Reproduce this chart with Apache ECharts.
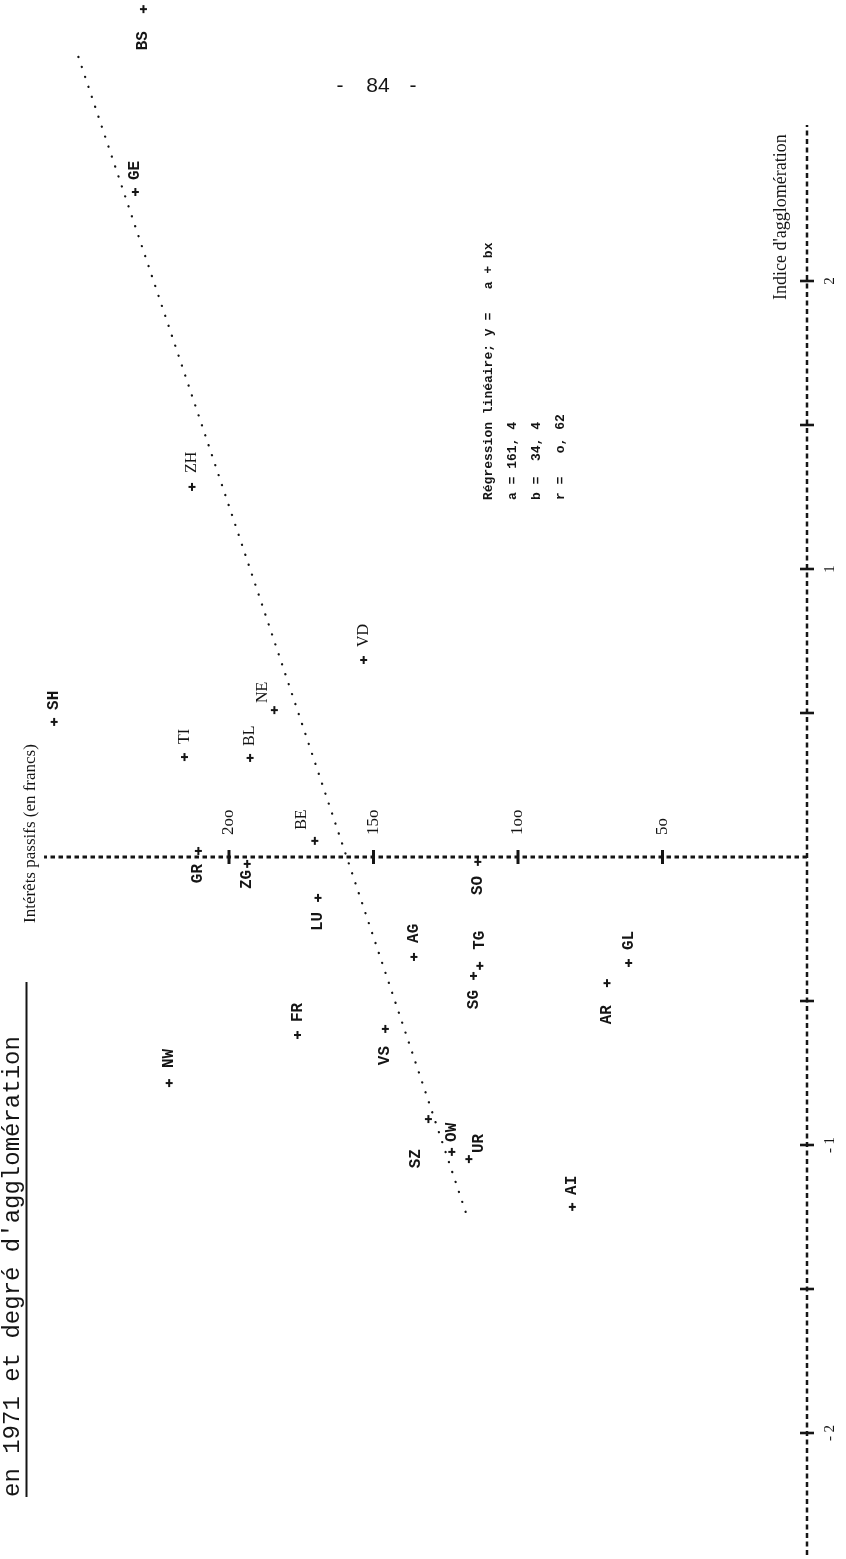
<!DOCTYPE html>
<html>
<head>
<meta charset="utf-8">
<script src="https://cdn.jsdelivr.net/npm/echarts@6/dist/echarts.min.js"></script>
<style>
html,body{margin:0;padding:0;background:#fff;}
#c{width:846px;height:1559px;}
</style>
</head>
<body>
<div id="c"></div>
<script>
// ---- data ----
const cantons = ['BS','GE','ZH','SH','TI','BL','NE','VD','BE','GR','ZG','SO','LU','AG','TG','SG','GL','AR','FR','VS','NW','SZ','OW','UR','AI'];
// Indice d'agglomération (x of the original chart)
const indiceAgglo = [2.944,2.309,1.285,0.469,0.347,0.344,0.51,0.684,0.056,0.021,-0.024,-0.017,-0.142,-0.347,-0.378,-0.413,-0.368,-0.438,-0.618,-0.597,-0.785,-0.91,-1.024,-1.049,-1.215];
// Intérêts passifs en francs (y of the original chart)
const interetsPassifs = [229.6,232.4,212.8,260.5,215.4,192.7,184.3,153.4,170.3,210.6,193.7,113.9,169.2,136,113.2,115.4,61.7,69.2,176.3,145.9,220.7,131,122.9,117,81.2];
// regression line end points (as drawn)
const regIndice = [2.778,-1.236];
const regInterets = [252.1,118];
// axes
const interetsTicks = [200,150,100,50];
const interetsTickLabels = ['2oo','15o','1oo','5o'];
const indiceTicks = [2,1.5,1,0.5,-0.5,-1,-1.5,-2];
const indiceLabelValues = [2,1,-1,-2];
const indiceTickLabels = ['2','1','- 1','- 2'];
const interetsAxisSpan = [0,264];
const indiceAxisSpan = [-2.424,2.542];

// ---- presentation ----
const R = Math.PI/2;
const INK = '#151515';
const placement = {
  BS:{side:'down',gap:22}, ZH:{gap:14}, TI:{gap:13}, NE:{gap:7,dx:-12}, VD:{gap:13},
  BE:{gap:11,dx:-13}, GR:{side:'down',gap:13}, ZG:{side:'down',gap:6}, SO:{side:'down',gap:14},
  LU:{side:'down',gap:14}, AG:{gap:14}, TG:{gap:16}, SG:{side:'down',gap:14}, GL:{gap:13},
  AR:{side:'down',gap:22}, FR:{gap:13}, VS:{side:'down',gap:17}, NW:{gap:15},
  SZ:{side:'down',gap:30,dx:-12}, OW:{gap:10}, UR:{gap:6,dx:10}, AI:{gap:12}
};
const serifLabels = new Set(['TI','BL','NE','BE','ZH','VD']);

const chart = echarts.init(document.getElementById('c'), null, {renderer:'canvas', width:846, height:1559});

const option = {
  animation:false,
  backgroundColor:'#ffffff',
  grid:{left:0,right:39,top:0,bottom:0},
  xAxis:{type:'value', inverse:true, min:0, max:279.24, show:false},
  yAxis:{type:'value', min:-2.4375, max:2.9757, show:false},
  series:[
    { // horizontal dashed axis (intérêts)
      type:'line', silent:true, symbol:'none',
      data: interetsAxisSpan.map(v=>[v,0]),
      lineStyle:{color:INK, width:3, type:[4.5,3.5]}
    },
    { // vertical dashed axis (indice)
      type:'line', silent:true, symbol:'none',
      data: indiceAxisSpan.map(v=>[0,v]),
      lineStyle:{color:INK, width:2.5, type:[5,3.5]}
    },
    { // regression (dotted)
      type:'line', silent:true, symbol:'none',
      data: regIndice.map((v,k)=>[regInterets[k], v]),
      lineStyle:{color:INK, width:2.3, type:[0.1,10.4], cap:'round'}
    },
    { // ticks on the intérêts axis
      type:'custom', silent:true,
      data: interetsTicks.map((v,k)=>[v,0,k]),
      encode:{x:0,y:1},
      renderItem:function(params, api){
        const p = api.coord([api.value(0), api.value(1)]);
        const k = api.value(2);
        return {type:'group', children:[
          {type:'line', shape:{x1:p[0],y1:p[1]-7,x2:p[0],y2:p[1]+7}, style:{stroke:INK,lineWidth:3}},
          {type:'text', x:p[0], y:p[1]-22, rotation:R,
           style:{text:interetsTickLabels[k], fontFamily:'Liberation Serif', fontSize:17, fill:INK, align:'left', verticalAlign:'middle'}}
        ]};
      }
    },
    { // ticks on the indice axis
      type:'custom', silent:true,
      data: indiceTicks.map((v,k)=>[0,v,k]),
      encode:{x:0,y:1},
      renderItem:function(params, api){
        const p = api.coord([api.value(0), api.value(1)]);
        return {type:'line', shape:{x1:p[0]-7,y1:p[1],x2:p[0]+7,y2:p[1]}, style:{stroke:INK,lineWidth:2.6}};
      }
    },
    { // labels of the indice axis
      type:'custom', silent:true,
      data: indiceLabelValues.map((v,k)=>[0,v,k]),
      encode:{x:0,y:1},
      renderItem:function(params, api){
        const p = api.coord([api.value(0), api.value(1)]);
        const k = api.value(2);
        return {type:'text', x:p[0]+23, y:p[1], rotation:R,
          style:{text:indiceTickLabels[k], fontFamily:'Liberation Serif', fontSize:15, fill:INK, align:'center', verticalAlign:'middle'}};
      }
    },
    { // cantons
      type:'custom', silent:true,
      data: cantons.map((c,k)=>[interetsPassifs[k], indiceAgglo[k]]),
      encode:{x:0,y:1},
      renderItem:function(params, api){
        const p = api.coord([api.value(0), api.value(1)]);
        const name = cantons[params.dataIndex];
        const pl = Object.assign({side:'up',gap:12,dx:0}, placement[name] || {});
        const up = pl.side === 'up';
        const serif = serifLabels.has(name);
        return {type:'group', children:[
          {type:'line', shape:{x1:p[0]-3.5,y1:p[1],x2:p[0]+3.5,y2:p[1]}, style:{stroke:INK,lineWidth:2}},
          {type:'line', shape:{x1:p[0],y1:p[1]-4,x2:p[0],y2:p[1]+4}, style:{stroke:INK,lineWidth:2}},
          {type:'text', x:p[0]+pl.dx, y: up ? p[1]-pl.gap : p[1]+pl.gap, rotation:R,
           style:{text:name, fontFamily: serif ? 'Liberation Serif' : 'Liberation Mono',
                  fontWeight: serif ? 'normal' : 'bold', fontSize:16, fill:INK,
                  align: up ? 'left' : 'right', verticalAlign:'middle'}}
        ]};
      }
    }
  ],
  graphic:[
    // title (second line) with underline
    {type:'text', x:13, y:1497, rotation:R,
     style:{text:"en 1971 et degré d'agglomération", fontFamily:'Liberation Mono', fontSize:24, fill:INK, align:'left', verticalAlign:'middle'}},
    {type:'line', shape:{x1:26.5,y1:982,x2:26.5,y2:1497}, style:{stroke:INK,lineWidth:2}},
    // axis titles
    {type:'text', x:31, y:923, rotation:R,
     style:{text:'Intérêts passifs (en francs)', fontFamily:'Liberation Serif', fontSize:17, fill:INK, align:'left', verticalAlign:'middle'}},
    {type:'text', x:781, y:300, rotation:R,
     style:{text:"Indice d'agglomération", fontFamily:'Liberation Serif', fontSize:18, fill:INK, align:'left', verticalAlign:'middle'}},
    // page number
    {type:'text', x:340, y:86, style:{text:'-', fontFamily:'Liberation Sans', fontSize:21, fill:INK, align:'center', verticalAlign:'middle'}},
    {type:'text', x:378, y:86, style:{text:'84', fontFamily:'Liberation Sans', fontSize:21, fill:INK, align:'center', verticalAlign:'middle'}},
    {type:'text', x:413, y:86, style:{text:'-', fontFamily:'Liberation Sans', fontSize:21, fill:INK, align:'center', verticalAlign:'middle'}},
    // regression block
    {type:'text', x:489, y:500, rotation:R, style:{text:'Régression linéaire; y =   a + bx', fontFamily:'Liberation Mono', fontSize:13, fontWeight:'bold', fill:INK, align:'left', verticalAlign:'middle'}},
    {type:'text', x:513, y:500, rotation:R, style:{text:'a = 161, 4', fontFamily:'Liberation Mono', fontSize:13, fontWeight:'bold', fill:INK, align:'left', verticalAlign:'middle'}},
    {type:'text', x:537, y:500, rotation:R, style:{text:'b =  34, 4', fontFamily:'Liberation Mono', fontSize:13, fontWeight:'bold', fill:INK, align:'left', verticalAlign:'middle'}},
    {type:'text', x:561, y:500, rotation:R, style:{text:'r =   o, 62', fontFamily:'Liberation Mono', fontSize:13, fontWeight:'bold', fill:INK, align:'left', verticalAlign:'middle'}}
  ]
};
chart.setOption(option);
</script>
</body>
</html>
